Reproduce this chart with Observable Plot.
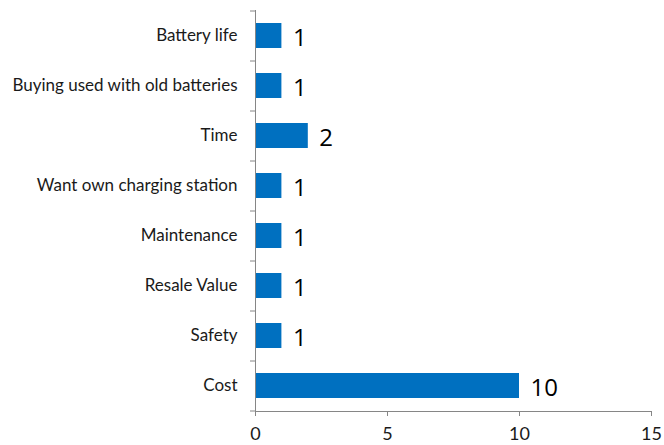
<!DOCTYPE html>
<html><head><meta charset="utf-8">
<script src="https://cdn.jsdelivr.net/npm/d3@7"></script>
<script src="https://cdn.jsdelivr.net/npm/@observablehq/plot@0.6"></script>
<style>html,body{margin:0;padding:0;background:#fff;}</style>
</head><body><div id="chart"></div>
<script>
const categories = ["Battery life","Buying used with old batteries","Time","Want own charging station","Maintenance","Resale Value","Safety","Cost"];
const counts = [1,1,2,1,1,1,1,10];
const xTicks = [0,5,10,15];
const data = categories.map((c,i)=>({cat:c, value:counts[i]}));
const axisColor = "#868686";
const chart = Plot.plot({
  width:664, height:445,
  marginLeft:255, marginRight:13, marginTop:10, marginBottom:34,
  style:{fontFamily:"Lato, sans-serif", background:"#fff", color:"#222"},
  x:{domain:[0,15]},
  y:{domain:categories, paddingInner:0.5, paddingOuter:0.25},
  marks:[
    Plot.barX(data,{x:"value", y:"cat", fill:"#0070C0"}),
    Plot.frame({anchor:"bottom", stroke:axisColor}),
    Plot.frame({anchor:"left", stroke:axisColor}),
    Plot.axisX({ticks:xTicks, tickSize:5, tickPadding:11, stroke:axisColor, fontSize:18, fill:"#1a1a1a", label:null}),
    Plot.axisY({tickSize:0, tickPadding:18, fontSize:17, fill:"#1a1a1a", label:null}),
    Plot.axisY({text:null, tickSize:5, dy:-25, stroke:axisColor, label:null}),
    Plot.axisY({text:null, tickSize:5, dy:25, ticks:["Cost"], stroke:axisColor, label:null}),
    Plot.text(data,{x:"value", y:"cat", text:d=>String(d.value), textAnchor:"start", dx:11, fontSize:24, fill:"#000", fontFamily:"'Open Sans', sans-serif", dy:2})
  ]
});
document.getElementById("chart").appendChild(chart);
</script></body></html>
